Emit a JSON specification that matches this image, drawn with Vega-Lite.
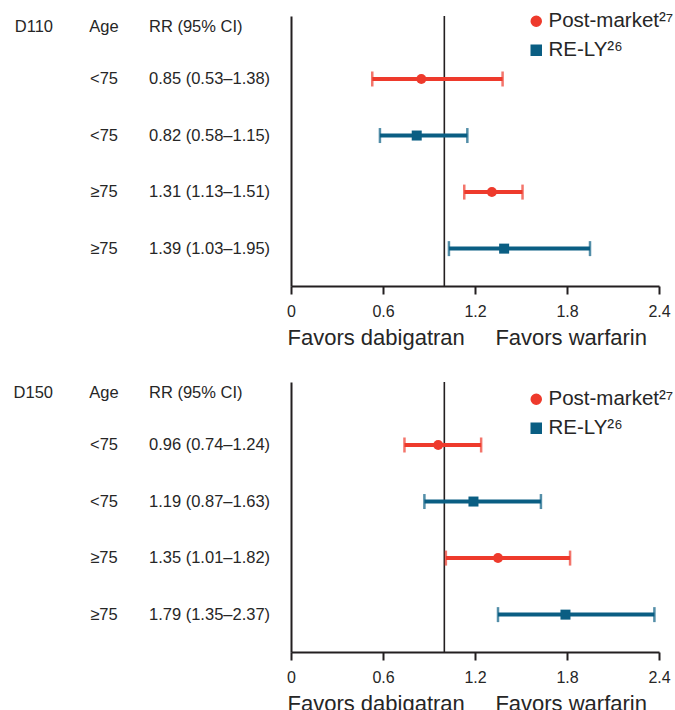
{
  "$schema": "https://vega.github.io/schema/vega-lite/v6.json",
  "padding": {"left": 0, "top": 11, "right": 0, "bottom": 0},
  "autosize": {"type": "pad"},
  "bounds": "flush",
  "columns": 2,
  "spacing": {"row": 96, "column": 87},
  "resolve": {"legend": {"color": "independent", "shape": "independent"}},
  "config": {
    "font": "Liberation Sans",
    "view": {"stroke": null},
    "text": {"font": "Liberation Sans", "fontSize": 16.5, "color": "#262626"}
  },
  "datasets": {
    "forest": [
      {"dose": "D110", "row": 1, "age": "<75", "source": "Post-market²⁷", "rr": 0.85, "lo": 0.53, "hi": 1.38, "label": "0.85 (0.53–1.38)"},
      {"dose": "D110", "row": 2, "age": "<75", "source": "RE-LY²⁶", "rr": 0.82, "lo": 0.58, "hi": 1.15, "label": "0.82 (0.58–1.15)"},
      {"dose": "D110", "row": 3, "age": "≥75", "source": "Post-market²⁷", "rr": 1.31, "lo": 1.13, "hi": 1.51, "label": "1.31 (1.13–1.51)"},
      {"dose": "D110", "row": 4, "age": "≥75", "source": "RE-LY²⁶", "rr": 1.39, "lo": 1.03, "hi": 1.95, "label": "1.39 (1.03–1.95)"},
      {"dose": "D150", "row": 1, "age": "<75", "source": "Post-market²⁷", "rr": 0.96, "lo": 0.74, "hi": 1.24, "label": "0.96 (0.74–1.24)"},
      {"dose": "D150", "row": 2, "age": "<75", "source": "RE-LY²⁶", "rr": 1.19, "lo": 0.87, "hi": 1.63, "label": "1.19 (0.87–1.63)"},
      {"dose": "D150", "row": 3, "age": "≥75", "source": "Post-market²⁷", "rr": 1.35, "lo": 1.01, "hi": 1.82, "label": "1.35 (1.01–1.82)"},
      {"dose": "D150", "row": 4, "age": "≥75", "source": "RE-LY²⁶", "rr": 1.79, "lo": 1.35, "hi": 2.37, "label": "1.79 (1.35–2.37)"}
    ]
  },
  "concat": [
    {
      "width": 204,
      "height": 270,
      "layer": [
        {"data": {"values": [{"heading": "D110"}]},
         "mark": {"type": "text", "align": "right", "dy": 5, "dx": 2},
         "encoding": {"x": {"datum": "group", "type": "nominal", "axis": null, "scale": {"type": "point", "domain": ["group", "age", "rr"], "padding": 1.125}},
                      "y": {"datum": 0, "type": "quantitative", "axis": null, "scale": {"domain": [-0.114, 4.661], "reverse": true, "nice": false, "zero": false}},
                      "text": {"field": "heading"}}},
        {"data": {"values": [{"heading": "Age"}]},
         "mark": {"type": "text", "align": "center", "dy": 5, "dx": 2},
         "encoding": {"x": {"datum": "age", "type": "nominal"}, "y": {"datum": 0, "type": "quantitative"}, "text": {"field": "heading"}}},
        {"data": {"values": [{"heading": "RR (95% CI)"}]},
         "mark": {"type": "text", "align": "left", "dy": 5, "dx": -4},
         "encoding": {"x": {"datum": "rr", "type": "nominal"}, "y": {"datum": 0, "type": "quantitative"}, "text": {"field": "heading"}}},
        {"data": {"name": "forest"},
         "transform": [{"filter": "datum.dose === 'D110'"}],
         "mark": {"type": "text", "align": "center", "dx": 2},
         "encoding": {"x": {"datum": "age", "type": "nominal"}, "y": {"field": "row", "type": "quantitative"}, "text": {"field": "age"}}},
        {"data": {"name": "forest"},
         "transform": [{"filter": "datum.dose === 'D110'"}],
         "mark": {"type": "text", "align": "left", "dx": -4},
         "encoding": {"x": {"datum": "rr", "type": "nominal"}, "y": {"field": "row", "type": "quantitative"}, "text": {"field": "label"}}}
      ]
    },
    {
      "width": 368,
      "height": 270,
      "layer": [
        {"data": {"name": "forest"},
         "transform": [{"filter": "datum.dose === 'D110'"}],
         "mark": {"type": "point", "filled": true, "opacity": 1, "size": 100},
         "encoding": {"x": {"field": "rr", "type": "quantitative",
                            "scale": {"domain": [0, 2.4], "nice": false, "zero": true},
                            "axis": {"values": [0, 0.6, 1.2, 1.8, 2.4], "format": ".1~f", "grid": false, "labelFlush": false,
                                     "domainColor": "#231f20", "domainWidth": 2, "tickColor": "#231f20", "tickWidth": 2, "tickSize": 8,
                                     "labelFontSize": 16, "labelColor": "#262626", "labelPadding": 9,
                                     "title": "Favors dabigatran\u00a0\u00a0\u00a0\u00a0\u00a0Favors warfarin",
                                     "titleFontSize": 22, "titleFontWeight": "normal", "titleColor": "#262626",
                                     "titleAlign": "left", "titleAnchor": "start", "titleX": -4, "titlePadding": 8}},
                      "y": {"field": "row", "type": "quantitative",
                            "scale": {"domain": [-0.114, 4.661], "reverse": true, "nice": false, "zero": false},
                            "axis": {"domain": true, "domainColor": "#231f20", "domainWidth": 2, "ticks": false, "labels": false, "grid": false, "title": null}},
                      "color": {"field": "source", "type": "nominal",
                                "scale": {"domain": ["Post-market²⁷", "RE-LY²⁶"], "range": ["#ee3a2c", "#0a5e83"]},
                                "legend": {"title": null, "orient": "none", "legendX": 235, "legendY": -5, "labelFontSize": 20.5, "labelColor": "#262626", "labelOffset": 2, "rowPadding": 8, "symbolSize": 100, "symbolOpacity": 1}},
                      "shape": {"field": "source", "type": "nominal",
                                "scale": {"domain": ["Post-market²⁷", "RE-LY²⁶"], "range": ["circle", "square"]},
                                "legend": {"title": null, "orient": "none", "legendX": 235, "legendY": -5, "labelFontSize": 20.5, "labelColor": "#262626", "labelOffset": 2, "rowPadding": 8, "symbolSize": 100, "symbolOpacity": 1}}}},
        {"data": {"values": [{"no_effect": 1}]},
         "mark": {"type": "rule", "color": "#231f20", "strokeWidth": 1.6},
         "encoding": {"x": {"field": "no_effect", "type": "quantitative"}}},
        {"data": {"name": "forest"},
         "transform": [{"filter": "datum.dose === 'D110'"}],
         "mark": {"type": "rule", "strokeWidth": 4},
         "encoding": {"x": {"field": "lo", "type": "quantitative"}, "x2": {"field": "hi"},
                      "y": {"field": "row", "type": "quantitative"},
                      "color": {"field": "source", "type": "nominal", "legend": null}}},
        {"data": {"name": "forest"},
         "transform": [{"filter": "datum.dose === 'D110'"}],
         "mark": {"type": "tick", "orient": "vertical", "thickness": 2.5, "size": 15},
         "encoding": {"x": {"field": "lo", "type": "quantitative"}, "y": {"field": "row", "type": "quantitative"},
                      "color": {"field": "source", "type": "nominal", "legend": null}}},
        {"data": {"name": "forest"},
         "transform": [{"filter": "datum.dose === 'D110'"}],
         "mark": {"type": "tick", "orient": "vertical", "thickness": 2.5, "size": 15},
         "encoding": {"x": {"field": "hi", "type": "quantitative"}, "y": {"field": "row", "type": "quantitative"},
                      "color": {"field": "source", "type": "nominal", "legend": null}}}
      ]
    },
    {
      "width": 204,
      "height": 270,
      "layer": [
        {"data": {"values": [{"heading": "D150"}]},
         "mark": {"type": "text", "align": "right", "dy": 5, "dx": 2},
         "encoding": {"x": {"datum": "group", "type": "nominal", "axis": null, "scale": {"type": "point", "domain": ["group", "age", "rr"], "padding": 1.125}},
                      "y": {"datum": 0, "type": "quantitative", "axis": null, "scale": {"domain": [-0.114, 4.661], "reverse": true, "nice": false, "zero": false}},
                      "text": {"field": "heading"}}},
        {"data": {"values": [{"heading": "Age"}]},
         "mark": {"type": "text", "align": "center", "dy": 5, "dx": 2},
         "encoding": {"x": {"datum": "age", "type": "nominal"}, "y": {"datum": 0, "type": "quantitative"}, "text": {"field": "heading"}}},
        {"data": {"values": [{"heading": "RR (95% CI)"}]},
         "mark": {"type": "text", "align": "left", "dy": 5, "dx": -4},
         "encoding": {"x": {"datum": "rr", "type": "nominal"}, "y": {"datum": 0, "type": "quantitative"}, "text": {"field": "heading"}}},
        {"data": {"name": "forest"},
         "transform": [{"filter": "datum.dose === 'D150'"}],
         "mark": {"type": "text", "align": "center", "dx": 2},
         "encoding": {"x": {"datum": "age", "type": "nominal"}, "y": {"field": "row", "type": "quantitative"}, "text": {"field": "age"}}},
        {"data": {"name": "forest"},
         "transform": [{"filter": "datum.dose === 'D150'"}],
         "mark": {"type": "text", "align": "left", "dx": -4},
         "encoding": {"x": {"datum": "rr", "type": "nominal"}, "y": {"field": "row", "type": "quantitative"}, "text": {"field": "label"}}}
      ]
    },
    {
      "width": 368,
      "height": 270,
      "layer": [
        {"data": {"name": "forest"},
         "transform": [{"filter": "datum.dose === 'D150'"}],
         "mark": {"type": "point", "filled": true, "opacity": 1, "size": 100},
         "encoding": {"x": {"field": "rr", "type": "quantitative",
                            "scale": {"domain": [0, 2.4], "nice": false, "zero": true},
                            "axis": {"values": [0, 0.6, 1.2, 1.8, 2.4], "format": ".1~f", "grid": false, "labelFlush": false,
                                     "domainColor": "#231f20", "domainWidth": 2, "tickColor": "#231f20", "tickWidth": 2, "tickSize": 8,
                                     "labelFontSize": 16, "labelColor": "#262626", "labelPadding": 9,
                                     "title": "Favors dabigatran\u00a0\u00a0\u00a0\u00a0\u00a0Favors warfarin",
                                     "titleFontSize": 22, "titleFontWeight": "normal", "titleColor": "#262626",
                                     "titleAlign": "left", "titleAnchor": "start", "titleX": -4, "titlePadding": 8}},
                      "y": {"field": "row", "type": "quantitative",
                            "scale": {"domain": [-0.114, 4.661], "reverse": true, "nice": false, "zero": false},
                            "axis": {"domain": true, "domainColor": "#231f20", "domainWidth": 2, "ticks": false, "labels": false, "grid": false, "title": null}},
                      "color": {"field": "source", "type": "nominal",
                                "scale": {"domain": ["Post-market²⁷", "RE-LY²⁶"], "range": ["#ee3a2c", "#0a5e83"]},
                                "legend": {"title": null, "orient": "none", "legendX": 235, "legendY": 7, "labelFontSize": 20.5, "labelColor": "#262626", "labelOffset": 2, "rowPadding": 8, "symbolSize": 100, "symbolOpacity": 1}},
                      "shape": {"field": "source", "type": "nominal",
                                "scale": {"domain": ["Post-market²⁷", "RE-LY²⁶"], "range": ["circle", "square"]},
                                "legend": {"title": null, "orient": "none", "legendX": 235, "legendY": 7, "labelFontSize": 20.5, "labelColor": "#262626", "labelOffset": 2, "rowPadding": 8, "symbolSize": 100, "symbolOpacity": 1}}}},
        {"data": {"values": [{"no_effect": 1}]},
         "mark": {"type": "rule", "color": "#231f20", "strokeWidth": 1.6},
         "encoding": {"x": {"field": "no_effect", "type": "quantitative"}}},
        {"data": {"name": "forest"},
         "transform": [{"filter": "datum.dose === 'D150'"}],
         "mark": {"type": "rule", "strokeWidth": 4},
         "encoding": {"x": {"field": "lo", "type": "quantitative"}, "x2": {"field": "hi"},
                      "y": {"field": "row", "type": "quantitative"},
                      "color": {"field": "source", "type": "nominal", "legend": null}}},
        {"data": {"name": "forest"},
         "transform": [{"filter": "datum.dose === 'D150'"}],
         "mark": {"type": "tick", "orient": "vertical", "thickness": 2.5, "size": 15},
         "encoding": {"x": {"field": "lo", "type": "quantitative"}, "y": {"field": "row", "type": "quantitative"},
                      "color": {"field": "source", "type": "nominal", "legend": null}}},
        {"data": {"name": "forest"},
         "transform": [{"filter": "datum.dose === 'D150'"}],
         "mark": {"type": "tick", "orient": "vertical", "thickness": 2.5, "size": 15},
         "encoding": {"x": {"field": "hi", "type": "quantitative"}, "y": {"field": "row", "type": "quantitative"},
                      "color": {"field": "source", "type": "nominal", "legend": null}}}
      ]
    }
  ]
}
